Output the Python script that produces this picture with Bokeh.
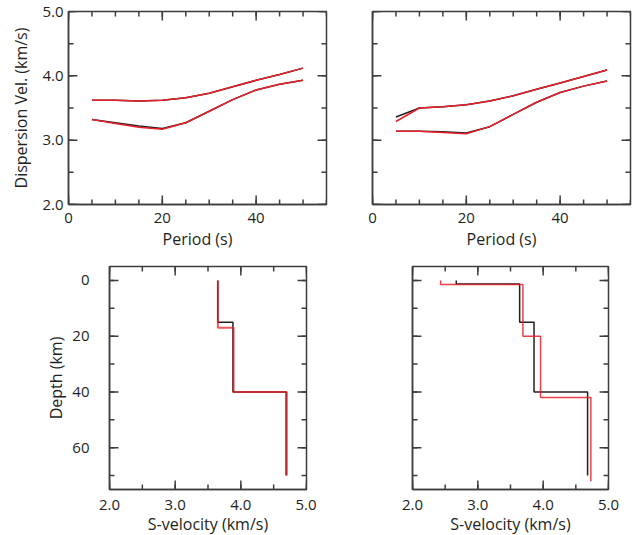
import numpy as np
from bokeh.plotting import figure
from bokeh.layouts import column, row
from bokeh.models import Range1d, SingleIntervalTicker, PrintfTickFormatter
from bokeh.embed import file_html
from bokeh.resources import INLINE

# ---------------- data ----------------
periods = [5, 10, 15, 20, 25, 30, 35, 40, 45, 50]

# top-left: dispersion curves (black = observed, red = predicted)
tl_upper_black = [3.62, 3.62, 3.61, 3.62, 3.66, 3.73, 3.83, 3.93, 4.02, 4.12]
tl_upper_red   = [3.62, 3.62, 3.61, 3.62, 3.66, 3.73, 3.83, 3.93, 4.02, 4.12]
tl_lower_black = [3.32, 3.27, 3.22, 3.18, 3.27, 3.45, 3.63, 3.78, 3.87, 3.93]
tl_lower_red   = [3.32, 3.26, 3.20, 3.17, 3.27, 3.45, 3.63, 3.78, 3.87, 3.93]

# top-right
tr_upper_black = [3.36, 3.50, 3.52, 3.55, 3.61, 3.69, 3.79, 3.89, 3.99, 4.09]
tr_upper_red   = [3.29, 3.50, 3.52, 3.55, 3.61, 3.69, 3.79, 3.89, 3.99, 4.09]
tr_lower_black = [3.14, 3.14, 3.13, 3.11, 3.21, 3.40, 3.59, 3.74, 3.84, 3.92]
tr_lower_red   = [3.14, 3.14, 3.12, 3.10, 3.21, 3.40, 3.59, 3.74, 3.84, 3.92]

# bottom-left: layered S-velocity models (layer boundaries in km, velocities km/s)
bl_black_depths = [0, 15, 40, 70]
bl_black_vs     = [3.65, 3.88, 4.69]
bl_red_depths   = [0, 17, 40, 70]
bl_red_vs       = [3.65, 3.89, 4.70]

# bottom-right
br_black_depths = [0, 1.3, 15, 40, 70]
br_black_vs     = [2.67, 3.64, 3.86, 4.68]
br_red_depths   = [0, 1.5, 20, 42, 72]
br_red_vs       = [2.43, 3.69, 3.96, 4.73]

FONT = "Open Sans"
TXT = "#231f20"
AXC = "#3d3d3d"
BLACK = "#231f20"
RED = "#e8202a"
MAJ_LEN = 9
MIN_LEN = 5


def profile(depths, vs):
    xs, ys = [], []
    for i, v in enumerate(vs):
        xs += [v, v]
        ys += [depths[i], depths[i + 1]]
    return xs, ys


def style_axis(ax, interval, nminor, fmt, show_labels, standoff):
    ax.ticker = SingleIntervalTicker(interval=interval, num_minor_ticks=nminor)
    ax.formatter = fmt
    ax.major_tick_in = 0
    ax.major_tick_out = 0
    ax.minor_tick_in = 0
    ax.minor_tick_out = 0
    ax.axis_line_color = AXC
    ax.axis_line_width = 1.5
    ax.major_label_text_font = FONT
    ax.major_label_text_color = TXT
    if show_labels:
        ax.major_label_text_font_size = "15px"
        ax.major_label_standoff = standoff
    else:
        ax.major_label_text_font_size = "0px"
        ax.major_label_standoff = 0
    ax.axis_label_text_font = FONT
    ax.axis_label_text_font_style = "normal"
    ax.axis_label_text_font_size = "16px"
    ax.axis_label_text_color = TXT


def inward_ticks(p, x0, x1, y0, y1, xi, xm, yi, ym):
    """Inward ticks on all four sides, drawn as screen-length rays."""
    xmaj = np.arange(x0, x1 + 1e-9, xi)
    xmin = np.arange(x0, x1 + 1e-9, xi / xm)
    ylo, yhi = min(y0, y1), max(y0, y1)
    ymaj = np.arange(np.ceil(ylo / yi) * yi, yhi + 1e-9, yi)
    ymin = np.arange(np.ceil(ylo / (yi / ym)) * (yi / ym), yhi + 1e-9, yi / ym)
    kw = dict(line_color=AXC, line_width=1.5, length_units="screen")
    yb, yt = y0, y1
    up, down = np.pi / 2, -np.pi / 2
    for xs, L in ((xmin, MIN_LEN), (xmaj, MAJ_LEN)):
        p.ray(x=xs, y=[yb] * len(xs), length=L, angle=up, **kw)
        p.ray(x=xs, y=[yt] * len(xs), length=L, angle=down, **kw)
    for ys, L in ((ymin, MIN_LEN), (ymaj, MAJ_LEN)):
        p.ray(x=[x0] * len(ys), y=ys, length=L, angle=0, **kw)
        p.ray(x=[x1] * len(ys), y=ys, length=L, angle=np.pi, **kw)


def make_fig(xr, yr, fw, fh, bl, br, bt, bb, xi, xm, yi, ym, xfmt, yfmt,
             xlabel, ylabel, show_y, xstand, ystand, xlstand, ylstand):
    p = figure(frame_width=fw, frame_height=fh,
               x_range=Range1d(*xr), y_range=Range1d(*yr),
               output_backend="svg", toolbar_location=None,
               min_border_left=bl, min_border_right=br,
               min_border_top=bt, min_border_bottom=bb,
               background_fill_color="white", border_fill_color="white")
    p.outline_line_color = AXC
    p.outline_line_width = 1.5
    p.grid.visible = False
    style_axis(p.xaxis[0], xi, xm, xfmt, True, xstand)
    style_axis(p.yaxis[0], yi, ym, yfmt, show_y, ystand)
    p.xaxis[0].axis_label = xlabel
    p.xaxis[0].axis_label_standoff = xlstand
    if ylabel:
        p.yaxis[0].axis_label = ylabel
        p.yaxis[0].axis_label_standoff = ylstand
    inward_ticks(p, xr[0], xr[1], yr[0], yr[1], xi, xm, yi, ym)
    return p


f1 = PrintfTickFormatter(format="%.1f")
fint = PrintfTickFormatter(format="%d")

# top-left
tl = make_fig((0, 55), (2, 5), 258, 193, 68, 10, 11, 52,
              20, 4, 1, 2, fint, f1, "Period (s)", "Dispersion Vel. (km/s)",
              True, 8, 5, 2, 7)
tl.line(periods, tl_upper_black, line_color=BLACK, line_width=1.5)
tl.line(periods, tl_lower_black, line_color=BLACK, line_width=1.5)
tl.line(periods, tl_upper_red, line_color=RED, line_width=1.5)
tl.line(periods, tl_lower_red, line_color=RED, line_width=1.5)

# top-right
tr = make_fig((0, 55), (2, 5), 258, 193, 36, 6, 11, 52,
              20, 4, 1, 2, fint, f1, "Period (s)", None,
              False, 8, 5, 2, 7)
tr.line(periods, tr_upper_black, line_color=BLACK, line_width=1.5)
tr.line(periods, tr_lower_black, line_color=BLACK, line_width=1.5)
tr.line(periods, tr_upper_red, line_color=RED, line_width=1.5)
tr.line(periods, tr_lower_red, line_color=RED, line_width=1.5)

# bottom-left (depth axis reversed: 75 at bottom, -5 at top)
bl = make_fig((2, 5), (75, -5), 197, 223, 109, 10, 10, 46,
              1, 2, 20, 2, f1, fint, "S-velocity (km/s)", "Depth (km)",
              True, 10, 20, 0, 2)
x, y = profile(bl_black_depths, bl_black_vs)
bl.line(x, y, line_color=BLACK, line_width=1.5)
x, y = profile(bl_red_depths, bl_red_vs)
bl.line(x, y, line_color=RED, line_width=2, line_alpha=0.75)

# bottom-right
br = make_fig((2, 5), (75, -5), 196, 223, 96, 28, 10, 46,
              1, 2, 20, 2, f1, fint, "S-velocity (km/s)", None,
              False, 10, 20, 0, 2)
x, y = profile(br_black_depths, br_black_vs)
br.line(x, y, line_color=BLACK, line_width=1.5)
x, y = profile(br_red_depths, br_red_vs)
br.line(x, y, line_color=RED, line_width=1.5, line_alpha=0.85)

layout = column(row(tl, tr), row(bl, br))
open("out.html", "w").write(file_html(layout, INLINE))
